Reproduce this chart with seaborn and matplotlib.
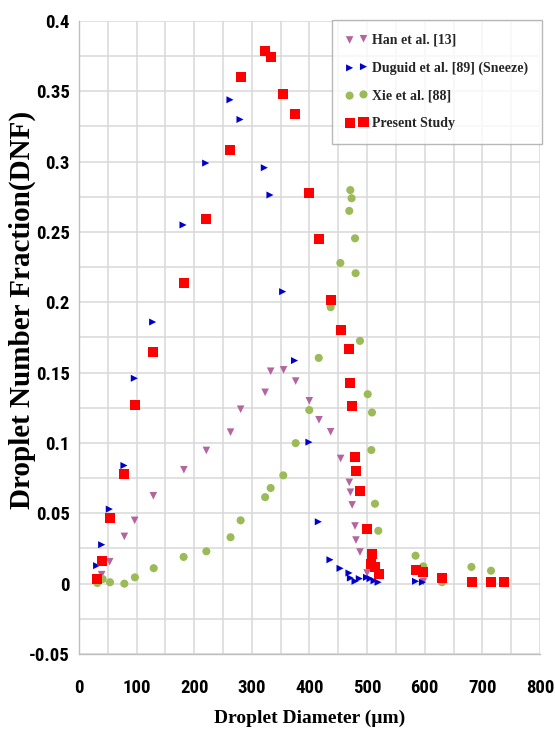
import matplotlib
matplotlib.use("Agg")
import matplotlib.pyplot as plt
from matplotlib import font_manager
from matplotlib.ticker import MultipleLocator, FuncFormatter
import numpy as np
import pandas as pd
import seaborn as sns

# ---- data: droplet diameter (um) and droplet number fraction ----
han_d = [39.3, 53.2, 78.7, 96.6, 129, 182, 221, 263, 280.5, 323, 332.6, 355, 376,
         399.6, 416.5, 436.7, 454, 469, 471, 474, 479, 480.6, 487.6, 500, 597.5]
han_v = [0.0064, 0.0156, 0.0336, 0.045, 0.0625, 0.081, 0.0947, 0.1077, 0.124, 0.136,
         0.151, 0.152, 0.144, 0.130, 0.1165, 0.108, 0.089, 0.072, 0.065, 0.056, 0.041,
         0.031, 0.0225, 0.0076, 0.0015]

duguid_d = [30.6, 39.3, 52.6, 78, 96, 127.8, 180.5, 219.8, 262, 279.4, 321.6, 331.4,
            353.4, 374, 399, 415.3, 435.5, 453, 468.5, 471, 479, 486.4, 499, 505, 512,
            519, 584, 596]
duguid_v = [0.0128, 0.0277, 0.053, 0.084, 0.146, 0.186, 0.255, 0.299, 0.344, 0.330,
            0.2957, 0.2763, 0.2076, 0.1586, 0.1006, 0.044, 0.017, 0.0109, 0.0076, 0.004,
            0.0017, 0.0036, 0.0045, 0.0036, 0.0021, 0.001, 0.0017, 0.001]

xie_d = [31.8, 41, 53.8, 78.7, 97, 129.6, 181.6, 221, 263, 280.5, 323, 332.6, 354.5,
         376, 399.6, 416, 436.7, 453.5, 469, 470.8, 473, 479, 480, 487.6, 501, 508.4,
         507.3, 513.6, 519.4, 584, 597.5, 630, 681, 715]
xie_v = [0.0005, 0.0033, 0.001, 0.0, 0.0045, 0.011, 0.019, 0.023, 0.033, 0.045, 0.0615,
         0.068, 0.077, 0.0999, 0.1234, 0.1605, 0.1965, 0.228, 0.265, 0.2798, 0.274,
         0.2455, 0.2207, 0.1726, 0.1347, 0.1217, 0.095, 0.0568, 0.0376, 0.0199, 0.0123,
         0.001, 0.0119, 0.0092]

present_d = [31.8, 40.5, 53.2, 78, 97, 128, 182, 220, 262, 280.5, 322.7, 332.6, 354.5,
             375, 399.6, 416.5, 436.7, 454, 469, 470.8, 473, 479, 480, 487.6, 500.4, 508,
             506.7, 513.6, 520, 584, 597.5, 630, 682, 715, 738]
present_v = [0.0033, 0.016, 0.0467, 0.078, 0.127, 0.165, 0.214, 0.259, 0.308, 0.360,
             0.379, 0.3745, 0.348, 0.334, 0.278, 0.245, 0.202, 0.180, 0.167, 0.143, 0.126,
             0.0897, 0.080, 0.0656, 0.039, 0.0213, 0.0142, 0.0118, 0.0066, 0.0095, 0.0083,
             0.004, 0.0012, 0.0012, 0.0012]

series_labels = ["Han et al. [13]", "Duguid et al. [89] (Sneeze)", "Xie et al. [88]",
                 "Present Study"]

sns.set_theme(style="white")

avail = {f.name for f in font_manager.fontManager.ttflist}


def pick(*names):
    for n in names:
        if n in avail:
            return n
    return "DejaVu Sans"


tick_font = pick("Liberation Sans Narrow", "Roboto Condensed", "Liberation Sans")
serif_font = pick("Liberation Serif", "DejaVu Serif")
plt.rcParams["font.family"] = [tick_font, "DejaVu Sans"]

fig = plt.figure(figsize=(5.55, 7.33), dpi=100)
ax = fig.add_axes([0.14234, 0.10778, 0.83063, 0.86357])

styles = [
    (han_d, han_v, "v", 30, "#B4649E"),
    (duguid_d, duguid_v, ">", 26, "#0000CC"),
    (xie_d, xie_v, "o", 34, "#9BBB59"),
    (present_d, present_v, "s", 52, "#FF0000"),
]
for (d, v, mk, sz, col), lab in zip(styles, series_labels):
    df = pd.DataFrame({"diameter": d, "dnf": v})
    sns.scatterplot(data=df, x="diameter", y="dnf", marker=mk, s=sz, color=col,
                    edgecolor="none", linewidth=0, label=lab, ax=ax, zorder=3)

ax.set_xlim(0, 800)
ax.set_ylim(-0.05, 0.4)
ax.xaxis.set_major_locator(MultipleLocator(100))
ax.xaxis.set_minor_locator(MultipleLocator(50))
ax.yaxis.set_major_locator(MultipleLocator(0.05))
ax.yaxis.set_minor_locator(MultipleLocator(0.025))
ax.yaxis.set_major_formatter(FuncFormatter(lambda val, pos: f"{round(val, 3):g}"))

grid_col = "#D9D9D9"
ax.grid(True, which="both", color=grid_col, linewidth=1.1)
ax.set_axisbelow(True)
for side in ["top", "right"]:
    ax.spines[side].set_visible(False)
for side in ["left", "bottom"]:
    ax.spines[side].set_color("#BFBFBF")
    ax.spines[side].set_linewidth(1.0)

ax.tick_params(axis="x", which="major", length=7, width=1.0, color="#BFBFBF",
               pad=11, labelsize=13.5, labelcolor="black")
ax.tick_params(axis="y", which="major", length=0, pad=6.5, labelsize=13.5,
               labelcolor="black")
ax.tick_params(which="minor", length=0)
for lab in ax.get_xticklabels() + ax.get_yticklabels():
    lab.set_fontweight("bold")

ax.set_xlabel("Droplet Diameter (µm)", fontfamily=[serif_font, "DejaVu Serif"],
              fontweight="bold", fontsize=14, color="black")
ax.set_ylabel("Droplet Number Fraction(DNF)", fontfamily=[serif_font, "DejaVu Serif"],
              fontweight="bold", fontsize=21, color="black")
ax.xaxis.set_label_coords(0.5, -0.101)
ax.xaxis.label.set_va("center")
ax.yaxis.set_label_coords(-0.122, 0.543)
ax.yaxis.label.set_va("center")

leg = ax.legend(loc="upper right", bbox_to_anchor=(1.004, 1.002), borderaxespad=0,
                scatterpoints=2, frameon=True, fancybox=False, handlelength=1.6,
                handletextpad=0.3, labelspacing=1.05, borderpad=1.0,
                prop={"family": serif_font, "weight": "bold", "size": 10})
leg.get_frame().set_edgecolor("#A6A6A6")
leg.get_frame().set_linewidth(1.0)

fig.savefig("out.png", dpi=100, facecolor="white")
